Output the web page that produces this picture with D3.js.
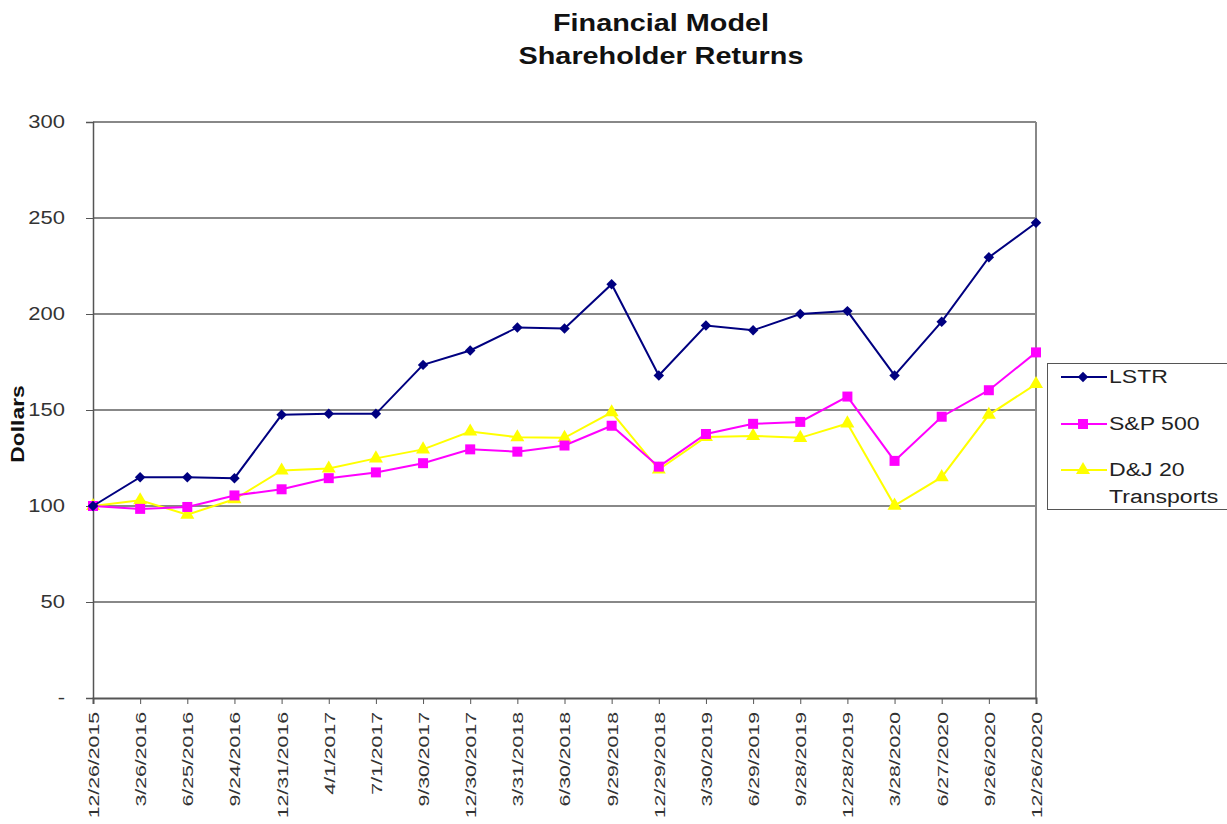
<!DOCTYPE html>
<html><head><meta charset="utf-8">
<script src="https://cdn.jsdelivr.net/npm/d3@7"></script>
<style>body{margin:0;background:#fff;} svg{display:block;font-family:"Liberation Sans",Arial,sans-serif;}</style>
</head><body>
<svg id="c" width="1227" height="824"></svg>
<script>
const dates = ["12/26/2015","3/26/2016","6/25/2016","9/24/2016","12/31/2016","4/1/2017","7/1/2017","9/30/2017","12/30/2017","3/31/2018","6/30/2018","9/29/2018","12/29/2018","3/30/2019","6/29/2019","9/28/2019","12/28/2019","3/28/2020","6/27/2020","9/26/2020","12/26/2020"];
const lstr = [100,115,115,114.5,147.5,148,148,173.5,181,193,192.5,215.5,168,194,191.5,200,201.5,168,196,229.5,247.5];
const sp500 = [100,98.5,99.5,105.5,108.7,114.5,117.5,122.3,129.5,128.3,131.5,141.8,120.5,137.5,142.8,143.8,157,123.5,146.5,160.3,180];
const dj20 = [100,103,95.5,103.5,118.5,119.5,124.8,129.5,138.8,135.8,135.5,148.8,119,136,136.5,135.5,143,100.2,115,147.5,163.5];
const yTicks = [0,50,100,150,200,250,300];
const yTickLabels = ["-","50","100","150","200","250","300"];
const seriesNames = ["LSTR","S&P 500","D&J 20 Transports"];

const svg = d3.select("#c");
const L=93, R=1036, T=122, B=698;
const x = d3.scalePoint().domain(dates).range([L,R]);
const y = d3.scaleLinear().domain([0,300]).range([B,T]);

function stretch(sel,k){
  sel.each(function(){
    const w=this.getComputedTextLength();
    this.setAttribute("textLength",w*k);
    this.setAttribute("lengthAdjust","spacingAndGlyphs");
  });
}

// title
const t1 = svg.append("text").attr("x",661).attr("y",31).attr("text-anchor","middle").attr("font-size",24).attr("font-weight","bold").attr("fill","#111").text("Financial Model");
const t2 = svg.append("text").attr("x",661).attr("y",64).attr("text-anchor","middle").attr("font-size",24).attr("font-weight","bold").attr("fill","#111").text("Shareholder Returns");
stretch(t1,1.2); stretch(t2,1.2);

// gridlines
svg.append("g").selectAll("line").data(yTicks.filter(d=>d>0)).join("line")
  .attr("x1",L).attr("x2",R).attr("y1",d=>y(d)).attr("y2",d=>y(d))
  .attr("stroke","#888").attr("stroke-width",2);
// right border
svg.append("line").attr("x1",R).attr("x2",R).attr("y1",T).attr("y2",B).attr("stroke","#888").attr("stroke-width",2);

// y axis
const yAxis = d3.axisLeft(y).tickValues(yTicks).tickFormat((d,i)=>yTickLabels[i]).tickSize(7).tickPadding(21);
const gy = svg.append("g").attr("transform",`translate(${L},0)`).call(yAxis);
gy.select(".domain").attr("stroke","#555").attr("stroke-width",1.5);
gy.selectAll(".tick line").attr("stroke","#555");
gy.selectAll("text").attr("font-size",18).attr("fill","#333").attr("font-family","Liberation Sans, Arial, sans-serif");
stretch(gy.selectAll("text"),1.22);

// x axis
const xAxis = d3.axisBottom(x).tickSize(6).tickPadding(8);
const gx = svg.append("g").attr("transform",`translate(0,${B})`).call(xAxis);
gx.select(".domain").attr("stroke","#555").attr("stroke-width",2);
gx.selectAll(".tick line").attr("stroke","#555");
gx.selectAll("text").attr("font-size",15.5).attr("fill","#333").attr("font-family","Liberation Sans, Arial, sans-serif")
  .attr("text-anchor","end").attr("transform","rotate(-90)").attr("x",-14).attr("y",0).attr("dy","0.35em");
stretch(gx.selectAll("text"),1.37);

// y label
const yl = svg.append("text").attr("transform","translate(24,424) rotate(-90)").attr("text-anchor","middle").attr("font-size",18).attr("font-weight","bold").attr("fill","#111").text("Dollars");
stretch(yl,1.27);

const diamond = {draw(ctx,size){const r=Math.sqrt(size/2);ctx.moveTo(0,-r);ctx.lineTo(r,0);ctx.lineTo(0,r);ctx.lineTo(-r,0);ctx.closePath();}};
const series = [
  {name:seriesNames[0], vals:lstr, color:"#000080", sym:diamond, size:55},
  {name:seriesNames[1], vals:sp500, color:"#FF00FF", sym:d3.symbolSquare, size:100},
  {name:seriesNames[2], vals:dj20, color:"#FFFF00", sym:d3.symbolTriangle, size:85}
];
const line = d3.line().x((d,i)=>x(dates[i])).y(d=>y(d));
[...series].reverse().forEach(s=>{
  svg.append("path").datum(s.vals).attr("d",line).attr("fill","none").attr("stroke",s.color).attr("stroke-width",2);
  svg.append("g").selectAll("path").data(s.vals).join("path")
    .attr("d",d3.symbol().type(s.sym).size(s.size))
    .attr("transform",(d,i)=>`translate(${x(dates[i])},${y(d)})`)
    .attr("fill",s.color);
});

// legend
const lg = svg.append("g");
lg.append("rect").attr("x",1047.5).attr("y",363.5).attr("width",185).attr("height",146).attr("fill","#fff").attr("stroke","#555").attr("stroke-width",1);
const ly = [377,424,470];
series.forEach((s,i)=>{
  lg.append("line").attr("x1",1061).attr("x2",1107).attr("y1",ly[i]).attr("y2",ly[i]).attr("stroke",s.color).attr("stroke-width",2);
  lg.append("path").attr("d",d3.symbol().type(s.sym).size(s.size)).attr("transform",`translate(1083,${ly[i]})`).attr("fill",s.color);
});
const lt = [["LSTR",ly[0]],["S&P 500",ly[1]],["D&J 20",ly[2]],["Transports",ly[2]+27]];
lt.forEach(([t,yy])=>{
  const e = lg.append("text").attr("x",1109).attr("y",yy).attr("dy","0.35em").attr("font-size",18).attr("fill","#222").text(t);
  stretch(e,1.28);
});
</script>
</body></html>
